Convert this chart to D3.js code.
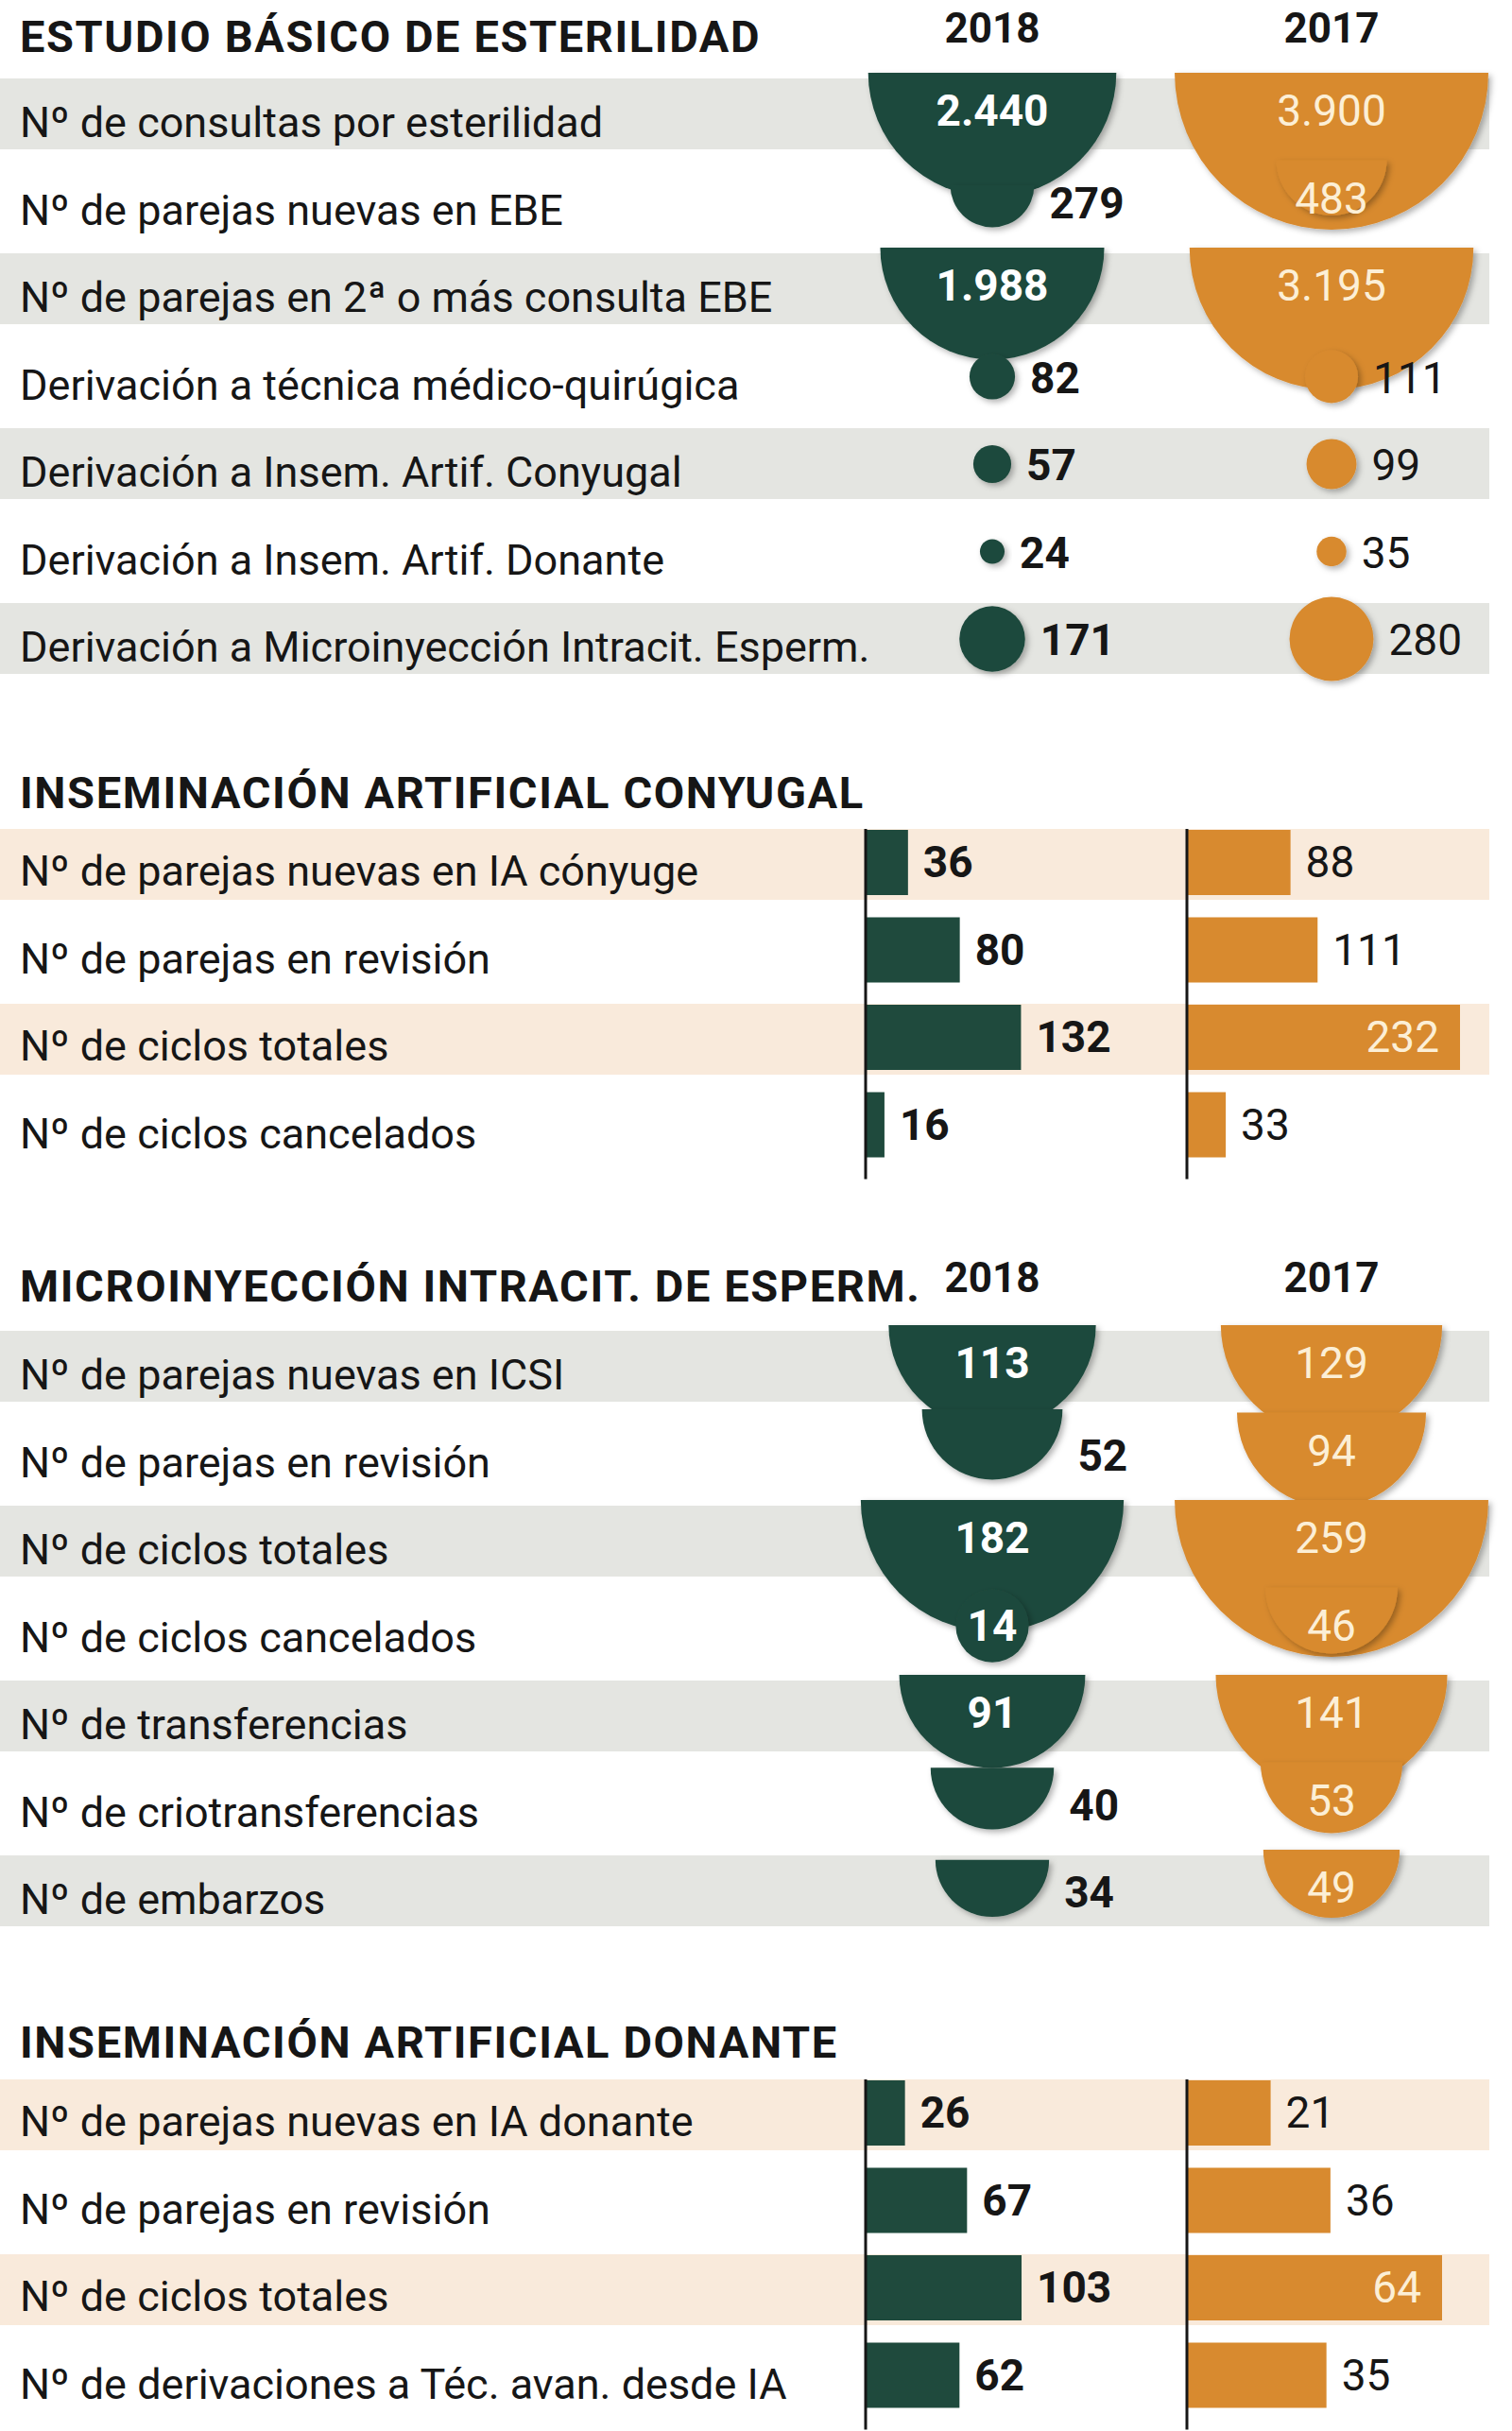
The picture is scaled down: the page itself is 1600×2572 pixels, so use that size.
<!DOCTYPE html>
<html lang="es">
<head>
<meta charset="utf-8">
<script src="https://cdn.jsdelivr.net/npm/d3@7"></script>
<style>
  body{margin:0;background:#fff;}
  svg{display:block;font-family:Roboto,"Open Sans",sans-serif;}
</style>
</head>
<body>
<script>
// Infografía de reproducción asistida: cuencos (área ∝ valor) y barras, 2018 vs 2017
const years = ["2018","2017"];

const ebeTitulo = "ESTUDIO BÁSICO DE ESTERILIDAD";
const ebeFilas = ["Nº de consultas por esterilidad","Nº de parejas nuevas en EBE","Nº de parejas en 2ª o más consulta EBE",
  "Derivación a técnica médico-quirúgica","Derivación a Insem. Artif. Conyugal","Derivación a Insem. Artif. Donante",
  "Derivación a Microinyección Intracit. Esperm."];
const ebe2018 = [2440,279,1988,82,57,24,171];
const ebe2017 = [3900,483,3195,111,99,35,280];
const ebeFuera2018 = [false,true,false];

const iacTitulo = "INSEMINACIÓN ARTIFICIAL CONYUGAL";
const iacFilas = ["Nº de parejas nuevas en IA cónyuge","Nº de parejas en revisión","Nº de ciclos totales","Nº de ciclos cancelados"];
const iac2018 = [36,80,132,16];
const iac2017 = [88,111,232,33];

const icsiTitulo = "MICROINYECCIÓN INTRACIT. DE ESPERM.";
const icsiFilas = ["Nº de parejas nuevas en ICSI","Nº de parejas en revisión","Nº de ciclos totales","Nº de ciclos cancelados",
  "Nº de transferencias","Nº de criotransferencias","Nº de embarzos"];
const icsi2018 = [113,52,182,14,91,40,34];
const icsi2017 = [129,94,259,46,141,53,49];
const icsiFuera2018 = [false,true,false,false,false,true,true];

const iadTitulo = "INSEMINACIÓN ARTIFICIAL DONANTE";
const iadFilas = ["Nº de parejas nuevas en IA donante","Nº de parejas en revisión","Nº de ciclos totales","Nº de derivaciones a Téc. avan. desde IA"];
const iad2018 = [26,67,103,62];
const iad2017 = [21,36,64,35];

// ---- layout ----
const W=1600, H=2572, PASO=92.5, X0=21, X_BANDA=1576;
const CX = {"2018":1050, "2017":1409};
const X_EJE = {"2018":916, "2017":1256};
const VERDE="#1f4a3d", NARANJA="#d88a2f", GRIS="#e4e5e1", CREMA="#f9eadb", TINTA="#161616", CLARO="#fcefd6";
const fmt = d3.formatLocale({decimal:",",thousands:".",grouping:[3],currency:["","€"]}).format(",d");

const svg = d3.select("body").append("svg").attr("width",W).attr("height",H).attr("viewBox",`0 0 ${W} ${H}`);
svg.append("defs").append("filter").attr("id","sombra").attr("x","-30%").attr("y","-30%").attr("width","160%").attr("height","160%")
  .append("feDropShadow").attr("dx",3).attr("dy",3).attr("stdDeviation",3).attr("flood-color","#000").attr("flood-opacity",0.3);

function bandas(n, base, color, off){
  svg.append("g").selectAll("rect").data(d3.range(0,n,2)).join("rect")
    .attr("x",0).attr("y",i=>base+i*PASO-off).attr("width",X_BANDA).attr("height",75).attr("fill",color);
}
function cabecera(tit, yTit, conAnios){
  svg.append("text").attr("x",X0).attr("y",yTit).attr("font-size",47).attr("font-weight",700)
    .attr("letter-spacing",1.6).attr("fill",TINTA).text(tit);
  if(conAnios) svg.append("g").selectAll("text").data(years).join("text")
    .attr("x",d=>CX[d]).attr("y",yTit-10).attr("text-anchor","middle").attr("font-size",44).attr("font-weight",700).attr("fill",TINTA).text(d=>d);
}
function filas(labels, base){
  svg.append("g").selectAll("text").data(labels).join("text")
    .attr("x",X0).attr("y",(d,i)=>base+i*PASO).attr("font-size",45).attr("fill",TINTA).text(d=>d);
}
function semi(cx, top, r){ return `M${cx-r},${top}A${r},${r} 0 0 0 ${cx+r},${top}Z`; }

// cuencos: los primeros nCuencos cuelgan de la fila, el resto son círculos
function cuencos(vals, year, base, rS, nCuencos, fuera){
  const g = svg.append("g"), col = year==="2018"?VERDE:NARANJA, cx = CX[year], peso = year==="2018"?700:400;
  vals.forEach((v,i)=>{
    const yb = base+i*PASO, r = rS(v);
    const esCuenco = i<nCuencos, dentro = esCuenco && !(fuera && fuera[i]);
    if(!esCuenco) g.append("circle").attr("cx",cx).attr("cy",yb-24).attr("r",r).attr("fill",col).attr("filter","url(#sombra)");
    else if(!dentro) g.append("path").attr("d",semi(cx,yb+3-r,r)).attr("fill",col).attr("filter","url(#sombra)");
    else if(r<50) g.append("circle").attr("cx",cx).attr("cy",yb-66+r).attr("r",r).attr("fill",col).attr("filter","url(#sombra)");
    else g.append("path").attr("d",semi(cx,yb-68,r)).attr("fill",col).attr("filter","url(#sombra)");
    g.append("text").attr("x",dentro?cx:cx+r+16).attr("y",dentro?yb-12:yb-7)
      .attr("text-anchor",dentro?"middle":"start").attr("font-size",46).attr("font-weight",peso)
      .attr("fill",dentro?(year==="2018"?"#fff":CLARO):TINTA).text(fmt(v));
  });
}
function barras(vals, year, base, x){
  const g = svg.append("g"), col = year==="2018"?VERDE:NARANJA, x0 = X_EJE[year], peso = year==="2018"?700:400;
  g.selectAll("rect").data(vals).join("rect")
    .attr("x",x0).attr("y",(d,i)=>base+i*PASO-59).attr("width",d=>x(d)).attr("height",69).attr("fill",col);
  g.selectAll("text").data(vals).join("text")
    .attr("x",d=>x(d)>200? x0+x(d)-22 : x0+x(d)+16).attr("y",(d,i)=>base+i*PASO-9)
    .attr("text-anchor",d=>x(d)>200?"end":"start").attr("font-size",46).attr("font-weight",peso)
    .attr("fill",d=>x(d)>200?CLARO:TINTA).text(d=>fmt(d));
  g.append("line").attr("x1",x0).attr("x2",x0).attr("y1",base-60).attr("y2",base+(vals.length-1)*PASO+33)
    .attr("stroke",TINTA).attr("stroke-width",3);
}

// 1. Estudio básico
const b1=145, rEbe=d3.scaleSqrt().domain([0,3900]).range([0,166]);
bandas(ebeFilas.length,b1,GRIS,62);
cabecera(ebeTitulo,55,true);
filas(ebeFilas,b1);
cuencos(ebe2018,"2018",b1,rEbe,3,ebeFuera2018);
cuencos(ebe2017,"2017",b1,rEbe,3,null);

// 2. IA conyugal
const b2=937, xIac=d3.scaleLinear().domain([0,232]).range([0,289]);
bandas(iacFilas.length,b2,CREMA,60);
cabecera(iacTitulo,855,false);
filas(iacFilas,b2);
barras(iac2018,"2018",b2,xIac);
barras(iac2017,"2017",b2,xIac);

// 3. ICSI
const b3=1470, rIcsi=d3.scaleSqrt().domain([0,259]).range([0,166]);
bandas(icsiFilas.length,b3,GRIS,62);
cabecera(icsiTitulo,1377,true);
filas(icsiFilas,b3);
cuencos(icsi2018,"2018",b3,rIcsi,icsi2018.length,icsiFuera2018);
cuencos(icsi2017,"2017",b3,rIcsi,icsi2017.length,null);

// 4. IA donante
const b4=2260;
bandas(iadFilas.length,b4,CREMA,60);
cabecera(iadTitulo,2177,false);
filas(iadFilas,b4);
barras(iad2018,"2018",b4,d3.scaleLinear().domain([0,103]).range([0,165]));
barras(iad2017,"2017",b4,d3.scaleLinear().domain([0,64]).range([0,270]));
</script>
</body>
</html>
